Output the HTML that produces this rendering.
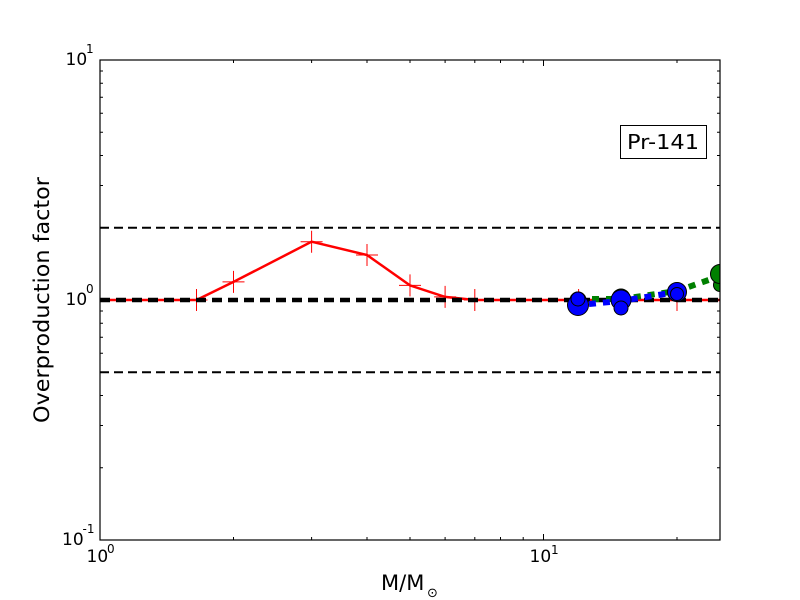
<!DOCTYPE html>
<html><head><meta charset="utf-8"><style>
html,body{margin:0;padding:0;background:#fff;}
svg{display:block;}
text{font-family:"DejaVu Sans","Liberation Sans",sans-serif;fill:#000;}
</style></head><body>
<svg width="800" height="600" viewBox="0 0 800 600" xmlns="http://www.w3.org/2000/svg">
<defs><clipPath id="c"><rect x="100" y="60" width="620" height="480"/></clipPath></defs>
<rect x="0" y="0" width="800" height="600" fill="#fff"/>
<g clip-path="url(#c)">
  <!-- dashed reference lines -->
  <line x1="100" y1="227.8" x2="720" y2="227.8" stroke="#000" stroke-width="2" stroke-dasharray="9,5"/>
  <line x1="100" y1="372.2" x2="720" y2="372.2" stroke="#000" stroke-width="2" stroke-dasharray="9,5"/>
  <!-- red line -->
  <polyline fill="none" stroke="#f00" stroke-width="2.5" points="100,300 196.5,300 233.5,281.9 311.6,241.7 367,255 410,285.4 445.1,296.9 474.8,300 578.6,300 621.6,300 677,300 720,300"/>
  <g stroke="#f00" stroke-width="1">
    <path d="M185.5,300h22M196.5,289v22"/>
    <path d="M222.5,281.9h22M233.5,270.9v22"/>
    <path d="M300.6,241.7h22M311.6,230.7v22"/>
    <path d="M356,255h22M367,244v22"/>
    <path d="M399,285.4h22M410,274.4v22"/>
    <path d="M434.1,296.9h22M445.1,285.9v22"/>
    <path d="M463.8,300h22M474.8,289v22"/>
    <path d="M567.6,300h22M578.6,289v22"/>
    <path d="M610.6,300h22M621.6,289v22"/>
    <path d="M666,300h22M677,289v22"/>
    <path d="M709,300h22M720,289v22"/>
  </g>
  <!-- thick black dashed at 1 -->
  <line x1="100" y1="300" x2="720" y2="300" stroke="#000" stroke-width="4.5" stroke-dasharray="10,6"/>
  <!-- green dashed -->
  <polyline fill="none" stroke="#008000" stroke-width="6" stroke-dasharray="7,7" points="578,299 621,299 677,291 720,276"/>
  <!-- blue dashed -->
  <polyline fill="none" stroke="#0000ff" stroke-width="6" stroke-dasharray="7,7" stroke-dashoffset="3" points="578,305 621,301 677,292"/>
  <!-- circles -->
  <g stroke="#000" stroke-width="1">
    <circle cx="578" cy="300" r="8" fill="#008000"/>
    <circle cx="578" cy="305" r="10.5" fill="#0000ff"/>
    <circle cx="578" cy="299" r="7" fill="#0000ff"/>
    <circle cx="621" cy="298" r="9" fill="#008000"/>
    <circle cx="621" cy="300" r="10" fill="#0000ff"/>
    <circle cx="621" cy="308" r="7" fill="#0000ff"/>
    <circle cx="677" cy="291" r="8" fill="#008000"/>
    <circle cx="677" cy="292" r="9.5" fill="#0000ff"/>
    <circle cx="677" cy="294" r="6.5" fill="#0000ff"/>
    <circle cx="720" cy="285" r="6.5" fill="#008000"/>
    <circle cx="720" cy="274" r="9.5" fill="#008000"/>
  </g>
</g>
<!-- axes frame -->
<rect x="100" y="60" width="620" height="480" fill="none" stroke="#000" stroke-width="1.2"/>
<!-- ticks -->
<g stroke="#000" stroke-width="1">
  <!-- x major -->
  <path d="M543.5,540v-6M543.5,60v6"/>
  <!-- x minor -->
  <path d="M233.5,540v-3M311.6,540v-3M367,540v-3M410,540v-3M445.1,540v-3M474.8,540v-3M500.5,540v-3M523.2,540v-3M677,540v-3
           M233.5,60v3M311.6,60v3M367,60v3M410,60v3M445.1,60v3M474.8,60v3M500.5,60v3M523.2,60v3M677,60v3"/>
  <!-- y major -->
  <path d="M100,300h6M720,300h-6"/>
  <!-- y minor -->
  <path d="M100,467.8h3M100,425.5h3M100,395.5h3M100,372.2h3M100,353.2h3M100,337.2h3M100,323.3h3M100,311h3
           M100,227.8h3M100,185.5h3M100,155.5h3M100,132.2h3M100,113.2h3M100,97.2h3M100,83.3h3M100,71h3
           M720,467.8h-3M720,425.5h-3M720,395.5h-3M720,372.2h-3M720,353.2h-3M720,337.2h-3M720,323.3h-3M720,311h-3
           M720,227.8h-3M720,185.5h-3M720,155.5h-3M720,132.2h-3M720,113.2h-3M720,97.2h-3M720,83.3h-3M720,71h-3"/>
</g>
<!-- tick labels -->
<g font-size="17">
  <text x="86.5" y="562">10</text><text x="107" y="553" font-size="12">0</text>
  <text x="529.5" y="562">10</text><text x="551" y="554" font-size="12">1</text>
  <text x="65.5" y="65">10</text><text x="86" y="53" font-size="12">1</text>
  <text x="65.5" y="305">10</text><text x="86" y="293" font-size="12">0</text>
  <text x="62" y="545">10</text><text x="82.5" y="533" font-size="12">-1</text>
</g>
<!-- axis labels -->
<text x="381" y="590" font-size="21">M/M</text>
<text x="427" y="597" font-size="13">⊙</text>
<text transform="translate(49,300) rotate(-90)" text-anchor="middle" font-size="21" textLength="246" lengthAdjust="spacingAndGlyphs">Overproduction factor</text>
<!-- annotation box -->
<rect x="620.5" y="125.5" width="86" height="33" fill="#fff" stroke="#000" stroke-width="1"/>
<text x="627" y="149" font-size="20" textLength="72" lengthAdjust="spacingAndGlyphs">Pr-141</text>
</svg>
</body></html>
